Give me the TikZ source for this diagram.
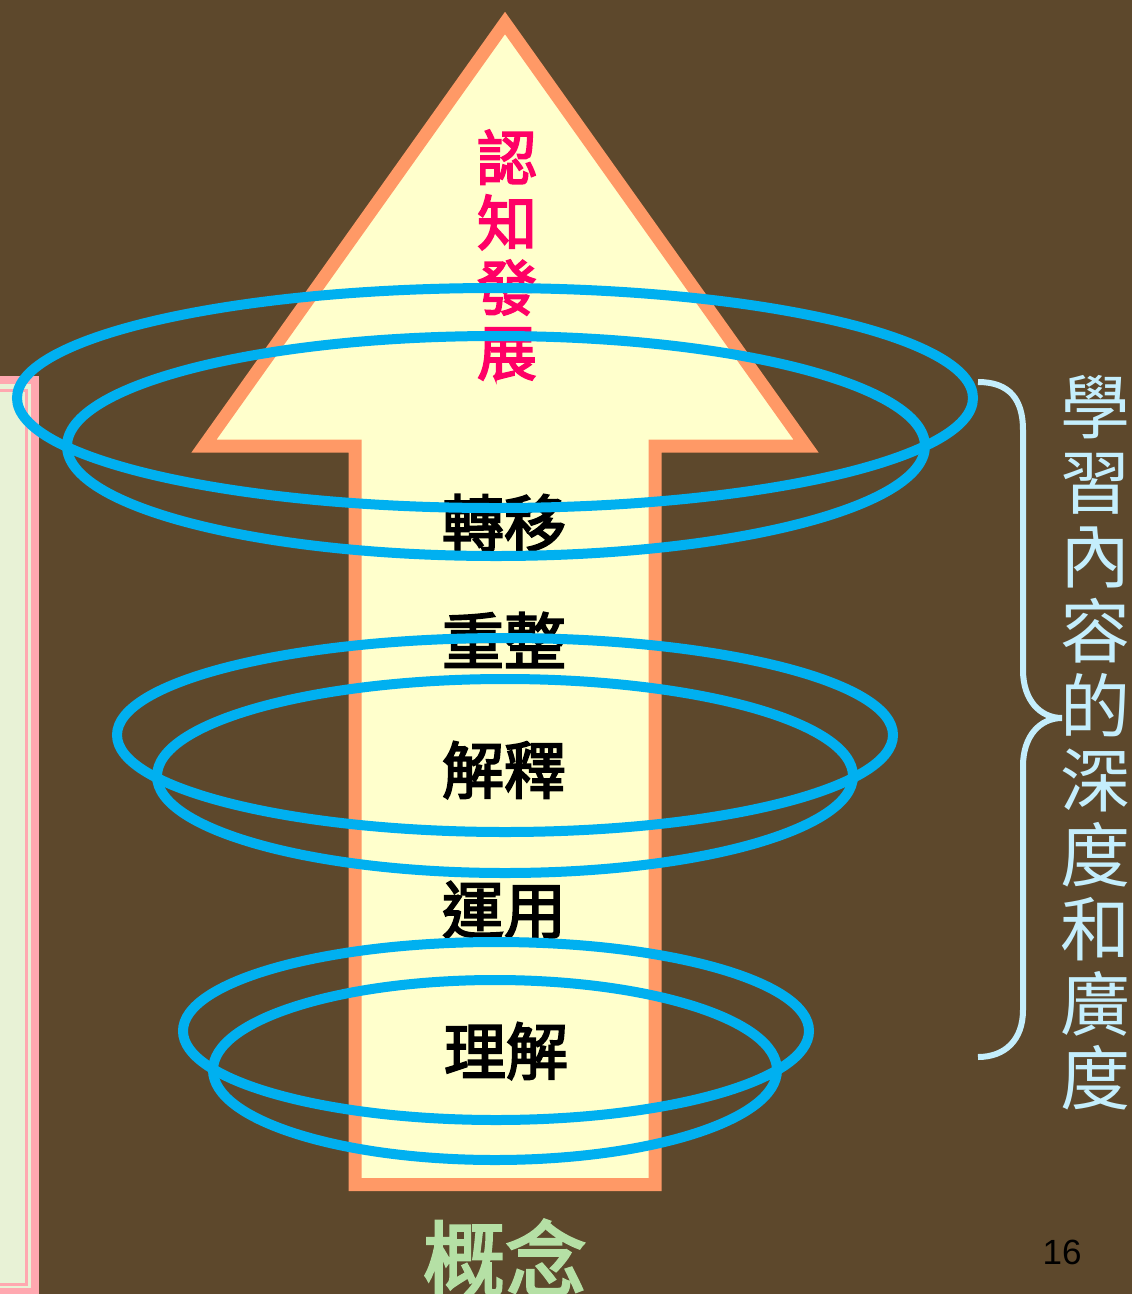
\documentclass[tikz,border=0pt]{standalone}
\usepackage{fontspec}
\newfontfamily\cjk{Noto Sans CJK TC}
\newfontfamily\cjkmid[FakeBold=3]{Noto Sans CJK TC}
\newfontfamily\numfont{Liberation Sans}
\definecolor{bgbrown}{HTML}{5D482C}
\definecolor{panelpink}{HTML}{FFA8B0}
\definecolor{panelgreen}{HTML}{E8F2D6}
\definecolor{arroworange}{HTML}{FF9966}
\definecolor{arrowfill}{HTML}{FFFFCC}
\definecolor{ringblue}{HTML}{00B0F0}
\definecolor{cogpink}{HTML}{FF0066}
\definecolor{bracecol}{HTML}{C4EEFC}
\definecolor{conceptgreen}{HTML}{B5E0A5}

\begin{document}
\begin{tikzpicture}[x=1pt,y=-1pt,
  ring/.style={draw=ringblue,line width=10pt},
  stage/.style={inner sep=0pt,font=\cjkmid\fontsize{62}{62}\selectfont}]
\fill[bgbrown] (0,0) rectangle (1132,1294);
\useasboundingbox (0,0) rectangle (1132,1294);
\fill[panelpink] (-10,376) rectangle (39,1304);
\fill[panelgreen] (-10,384) rectangle (31,1288);
\draw[panelpink,line width=3pt] (-10,390) -- (26.5,390) -- (26.5,1284.5) -- (-10,1284.5);
\draw[line width=13pt,draw=arroworange,fill=arrowfill] (505,23) -- (806,446) -- (655,446) -- (655,1184.5) -- (355,1184.5) -- (355,446) -- (204,446) -- cycle;
\node[inner sep=0pt,text=cogpink,align=center,font=\cjkmid\fontsize{60}{65}\selectfont] (cognition) at (507,255) {認\\知\\發\\展};
\node[stage] (transfer) at (504,523) {轉移};
\node[stage] (reorganize) at (504,640) {重整};
\node[stage] (explain) at (504,770) {解釋};
\node[stage] (apply) at (504,910) {運用};
\node[stage] (understand) at (506,1051) {理解};
\draw[ring] (495,398) ellipse [x radius=478,y radius=110];
\draw[ring] (496,446) ellipse [x radius=429,y radius=110];
\draw[ring] (505,735) ellipse [x radius=388,y radius=97];
\draw[ring] (505,776) ellipse [x radius=348,y radius=97];
\draw[ring] (496,1031) ellipse [x radius=313,y radius=89];
\draw[ring] (495,1070) ellipse [x radius=282,y radius=90];
\draw[bracecol,line width=6pt] (978,382) .. controls (1010,382) and (1023,400) .. (1023,430) -- (1023,670) .. controls (1023,700) and (1040,718) .. (1062,718) .. controls (1040,718) and (1023,736) .. (1023,766) -- (1023,1010) .. controls (1023,1040) and (1005,1057) .. (978,1057);
\node[inner sep=0pt,text=bracecol,align=center,font=\cjk\fontsize{70}{74.6}\selectfont] (depth) at (1095,743) {學\\習\\內\\容\\的\\深\\度\\和\\廣\\度};
\node[inner sep=0pt,text=conceptgreen,font=\cjkmid\fontsize{82}{82}\selectfont] (concept) at (505,1258) {概念};
\node[inner sep=0pt,font=\numfont\fontsize{35}{35}\selectfont] (page) at (1062,1252) {16};
\end{tikzpicture}
\end{document}
